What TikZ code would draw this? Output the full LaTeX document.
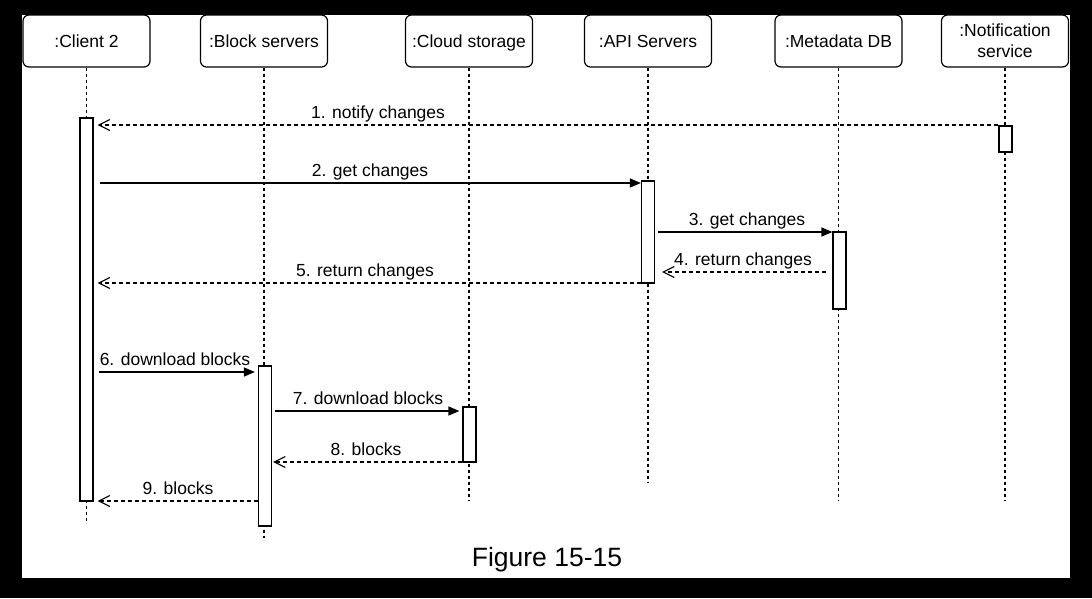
\documentclass[tikz,border=0pt]{standalone}
\usepackage{fontspec}
\setmainfont{Liberation Sans}
\usetikzlibrary{arrows.meta}
\begin{document}
\begin{tikzpicture}[x=1pt,y=-1pt,
  head/.style={draw, rounded corners=6pt, line width=1.2pt, minimum width=127pt, minimum height=52pt, inner sep=0pt, align=center, font=\fontsize{17.5}{21}\selectfont},
  oneline/.style={text height=13pt, text depth=0pt},
  life/.style={line width=1.2pt, dash pattern=on 3pt off 3pt},
  actbar/.style={draw, fill=white, line width=1.2pt, minimum width=13pt, inner sep=0pt},
  sync/.style={line width=1.3pt, -{Triangle[length=11pt,width=9pt]}},
  reply/.style={line width=1.1pt, dash pattern=on 4pt off 3pt, -{Straight Barb[length=11pt,width=11pt,line width=1.1pt]}},
  lbl/.style={anchor=base, font=\fontsize{17.5}{21}\selectfont, inner sep=0pt},
]
% background
\fill[black] (0,0) rectangle (1092,598);
\fill[white] (22,15) rectangle (1070,578);

% heads
\node[head, oneline] (c) at (86.5,41) {:Client 2};
\node[head, oneline] (b) at (264,41) {:Block servers};
\node[head, oneline] (s) at (469,41) {:Cloud storage};
\node[head, oneline] (a) at (648,41) {:API Servers};
\node[head, oneline] (m) at (838.5,41) {:Metadata DB};
\node[head] (n) at (1005,41) {:Notification\\service};

% lifeline ends
\coordinate (cE) at (86.5,522);
\coordinate (bE) at (264,538);
\coordinate (sE) at (469,500);
\coordinate (aE) at (648,483);
\coordinate (mE) at (838.5,500);
\coordinate (nE) at (1005,500);

\draw[life] (c.south) -- (cE);
\draw[life] (b.south) -- (bE);
\draw[life] (s.south) -- (sE);
\draw[life] (a.south) -- (aE);
\draw[life] (m.south) -- (mE);
\draw[life] (n.south) -- (nE);

% activation bars
\node[actbar, minimum height=383pt] (actC) at (86.5,309.5) {};
\node[actbar, minimum height=26pt] (actN) at (1005.5,139) {};
\node[actbar, minimum height=102pt] (actA) at (648,232) {};
\node[actbar, minimum height=77pt] (actM) at (839.5,270.5) {};
\node[actbar, minimum height=160pt] (actB) at (265,446) {};
\node[actbar, minimum height=55pt] (actS) at (469.5,434.5) {};

% message rows
\coordinate (y1) at (0,125);
\coordinate (y2) at (0,183);
\coordinate (y3) at (0,232);
\coordinate (y4) at (0,272);
\coordinate (y5) at (0,283);
\coordinate (y6) at (0,372);
\coordinate (y7) at (0,411);
\coordinate (y8) at (0,462);
\coordinate (y9) at (0,501);

\draw[reply, shorten >=4pt] (actN.west |- y1) -- (actC.east |- y1);
\draw[sync, shorten <=6pt] (actC.east |- y2) -- (actA.west |- y2);
\draw[sync, shorten <=3pt] (actA.east |- y3) -- (actM.west |- y3);
\draw[reply, shorten <=6pt, shorten >=7pt] (actM.west |- y4) -- (actA.east |- y4);
\draw[reply, shorten >=4pt] (actA.west |- y5) -- (actC.east |- y5);
\draw[sync, shorten <=5pt, shorten >=3pt] (actC.east |- y6) -- (actB.west |- y6);
\draw[sync, shorten <=3pt, shorten >=3pt] (actB.east |- y7) -- (actS.west |- y7);
\draw[reply, shorten >=1pt] (actS.west |- y8) -- (actB.east |- y8);
\draw[reply, shorten >=4pt] (actB.west |- y9) -- (actC.east |- y9);

% labels
\node[lbl] (l1) at (378,118) {1. notify changes};
\node[lbl] (l2) at (370,176) {2. get changes};
\node[lbl] (l3) at (747,225) {3. get changes};
\node[lbl] (l4) at (743,265) {4. return changes};
\node[lbl] (l5) at (365,276) {5. return changes};
\node[lbl] (l6) at (175,365) {6. download blocks};
\node[lbl] (l7) at (368,404) {7. download blocks};
\node[lbl] (l8) at (366,455) {8. blocks};
\node[lbl] (l9) at (178,494) {9. blocks};

\node[anchor=base, font=\fontsize{26.5}{30}\selectfont, inner sep=0pt] (fig) at (547,566) {Figure 15-15};
\end{tikzpicture}
\end{document}
